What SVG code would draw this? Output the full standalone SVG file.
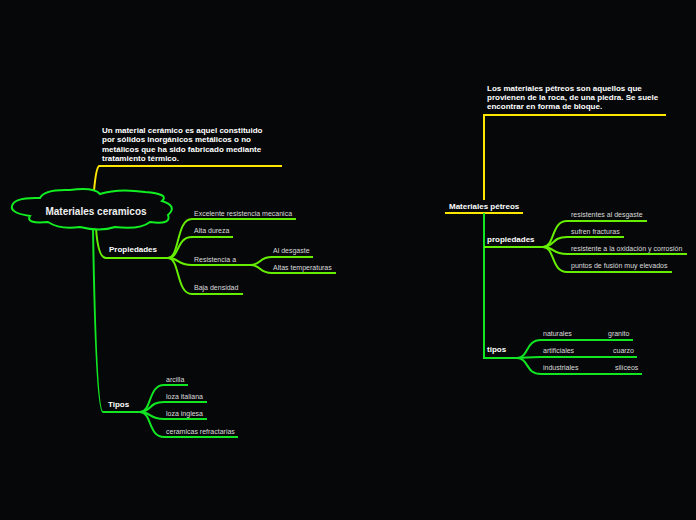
<svg xmlns="http://www.w3.org/2000/svg" width="696" height="520" viewBox="0 0 696 520">
<style>
.bg{fill:#050709}
.y{fill:none;stroke:#ffe600;stroke-width:2}
.g{fill:none;stroke:#11e622;stroke-width:2}
.l{fill:none;stroke:#66ee00;stroke-width:2}
.t{font-family:"Liberation Sans",Arial,sans-serif;font-size:7px;fill:#dddddd}
.b{font-family:"Liberation Sans",Arial,sans-serif;font-size:8px;font-weight:bold;fill:#ffffff}
.h{font-family:"Liberation Sans",Arial,sans-serif;font-size:10px;font-weight:bold;fill:#f0f0f0}
</style>
<rect class="bg" x="0" y="0" width="696" height="520"/>
<g id="connectors">
<path class="y" d="M94 191 Q96 168 99 166 L282 166"/>
<path class="l" d="M96 228 Q98 258 106 258 L168 258"/>
<path class="g" d="M93 229 Q96 412 103 412 L140 412"/>
<path class="l" d="M168 258 C180 258 176 219 192 219 L296 219"/>
<path class="l" d="M168 258 C180 258 176 237 192 237 L233 237"/>
<path class="l" d="M168 258 C180 258 176 265 192 265 L250 265"/>
<path class="l" d="M168 258 C180 258 176 294 192 294 L243 294"/>
<path class="l" d="M250 265 C262 265 258 257 272 257 L313 257"/>
<path class="l" d="M250 265 C262 265 258 273 272 273 L336 273"/>
<path class="g" d="M140 412 C152 412 148 385 164 385 L188 385"/>
<path class="g" d="M140 412 C152 412 148 402 164 402 L207 402"/>
<path class="g" d="M140 412 C152 412 148 419 164 419 L207 419"/>
<path class="g" d="M140 412 C152 412 148 437 164 437 L238 437"/>
<path class="y" d="M484 200 L484 115 L666 115"/>
<path class="y" d="M445 213 L523 213"/>
<path class="g" d="M484 213 L484 358 L518 358"/>
<path class="l" d="M484 247 L543 247"/>
<path class="l" d="M543 247 C555 247 551 221 567 221 L647 221"/>
<path class="l" d="M543 247 C555 247 551 237 567 237 L624 237"/>
<path class="l" d="M543 247 C555 247 551 254 567 254 L687 254"/>
<path class="l" d="M543 247 C555 247 551 272 567 272 L672 272"/>
<path class="g" d="M517 358 C529 358 525 340 541 340 L633 340"/>
<path class="g" d="M517 358 C529 358 525 357 541 357 L637 357"/>
<path class="g" d="M517 358 C529 358 525 374 541 374 L642 374"/>
</g>
<g id="root-ceramicos">
<path d="M12 206 Q14 197 40 198 Q44 189 70 190 Q94 187 100 194 Q118 188 145 192 Q170 194 162 201 Q178 206 168 215 Q172 225 150 222 Q140 230 115 227 Q100 232 80 227 Q60 230 48 222 Q25 224 30 216 Q10 213 12 206 Z" fill="#050709" stroke="#11ee22" stroke-width="2"/>
<text class="h" x="96" y="215" text-anchor="middle">Materiales ceramicos</text>
</g>
<g id="def-ceramico">
<text class="b" x="102" y="133">Un material cerámico es aquel constituido</text>
<text class="b" x="102" y="142">por sólidos inorgánicos metálicos o no</text>
<text class="b" x="102" y="152">metálicos que ha sido fabricado mediante</text>
<text class="b" x="102" y="161">tratamiento térmico.</text>
</g>
<g id="propiedades-c"><text class="b" x="109" y="252">Propiedades</text></g>
<g id="c1"><text class="t" x="194" y="216">Excelente resistencia mecanica</text></g>
<g id="c2"><text class="t" x="194" y="233">Alta dureza</text></g>
<g id="c3"><text class="t" x="194" y="262">Resistencia a</text></g>
<g id="c3a"><text class="t" x="273" y="253">Al desgaste</text></g>
<g id="c3b"><text class="t" x="273" y="270">Altas temperaturas</text></g>
<g id="c4"><text class="t" x="194" y="290">Baja densidad</text></g>
<g id="tipos-c"><text class="b" x="108" y="407">Tipos</text></g>
<g id="t1"><text class="t" x="166" y="382">arcilla</text></g>
<g id="t2"><text class="t" x="166" y="399">loza italiana</text></g>
<g id="t3"><text class="t" x="166" y="416">loza inglesa</text></g>
<g id="t4"><text class="t" x="166" y="434">ceramicas refractarias</text></g>
<g id="def-petreos">
<text class="b" x="487" y="91">Los materiales pétreos son aquellos que</text>
<text class="b" x="487" y="100">provienen de la roca, de una piedra. Se suele</text>
<text class="b" x="487" y="109">encontrar en forma de bloque.</text>
</g>
<g id="root-petreos"><text class="b" x="449" y="209">Materiales pétreos</text></g>
<g id="propiedades-p"><text class="b" x="487" y="242">propiedades</text></g>
<g id="p1"><text class="t" x="571" y="217">resistentes al desgaste</text></g>
<g id="p2"><text class="t" x="571" y="234">sufren fracturas</text></g>
<g id="p3"><text class="t" x="571" y="251">resistente a la oxidación y corrosión</text></g>
<g id="p4"><text class="t" x="571" y="268">puntos de fusión muy elevados</text></g>
<g id="tipos-p"><text class="b" x="487" y="352">tipos</text></g>
<g id="n1"><text class="t" x="543" y="336">naturales</text></g>
<g id="n1a"><text class="t" x="608" y="336">granito</text></g>
<g id="n2"><text class="t" x="543" y="353">artificiales</text></g>
<g id="n2a"><text class="t" x="613" y="353">cuarzo</text></g>
<g id="n3"><text class="t" x="543" y="370">industriales</text></g>
<g id="n3a"><text class="t" x="615" y="370">silíceos</text></g>
</svg>
